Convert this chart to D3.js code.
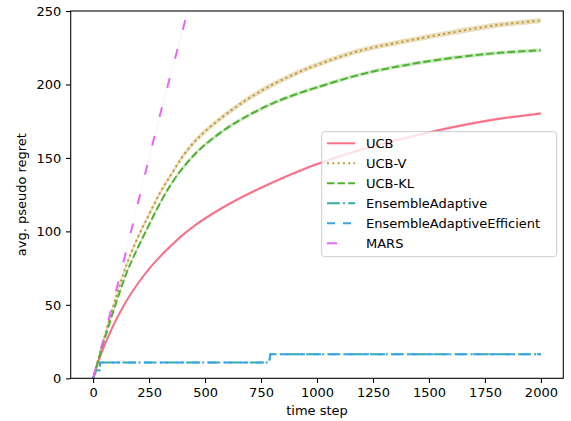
<!DOCTYPE html>
<html>
<head>
<meta charset="utf-8">
<script src="https://cdn.jsdelivr.net/npm/d3@7"></script>
<style>
body { margin: 0; background: #fff; }
svg { display: block; font-family: "DejaVu Sans", sans-serif; }
</style>
</head>
<body>
<svg id="chart"></svg>
<script>
// values
var ucbT = [0, 25, 50, 100, 150, 200, 250, 300, 350, 400, 450, 500, 600, 700, 800, 900, 1000, 1200, 1400, 1600, 1800, 2000];
var ucb  = [0, 12, 22, 39, 53, 64.5, 74.5, 83, 90.5, 97.5, 103.5, 108.8, 118, 126, 133.2, 139.8, 145.8, 155.7, 163.7, 170.7, 176.3, 180.3];
var ucbV = [0, 14, 28, 54, 77.5, 96, 111.5, 126.5, 139, 151, 160.5, 168, 180.5, 191, 199.8, 207.1, 213.3, 223.3, 229.6, 235.3, 240.3, 243.5];
var ucbKL = [0, 13, 26, 50, 72, 89, 104.5, 119.5, 132.5, 143, 151.8, 159, 170.5, 179.5, 187, 193, 198, 207, 213.3, 218, 221.3, 223.3];
var ucbSd = 1.0, ucbVSd = 1.8, ucbKLSd = 1.3;

var ensT = [0, 14, 30, 31, 786, 792, 2000];
var ensAdaptive = [0, 5.5, 5.5, 10.7, 10.7, 16.4, 16.4];
var ensEfficient = [0, 5.5, 5.5, 10.7, 10.7, 16.4, 16.4];

var marsT = [0, 50, 100, 150, 200, 250, 300, 400, 500];
var mars  = [0, 28.5, 58, 88, 119, 150, 180, 237, 295];

var xTicks = [0, 250, 500, 750, 1000, 1250, 1500, 1750, 2000];
var yTicks = [0, 50, 100, 150, 200, 250];

var names = ["UCB", "UCB-V", "UCB-KL", "EnsembleAdaptive", "EnsembleAdaptiveEfficient", "MARS"];
var colors = ["#f77189", "#bb9832", "#50b131", "#36ada4", "#3ba3ec", "#e866f4"];
var dashes = [null, "2,3.3", "7.4,3.2", "12.8,3.2,2,3.2", "8,8", "10,20"];

var width = 571, height = 421;
var mLeft = 70.7, mRight = 563.3, mTop = 11, mBottom = 378.3;

var svg = d3.select("#chart").attr("width", width).attr("height", height);

var x = d3.scaleLinear().domain([-100, 2100]).range([mLeft, mRight]);
var y = d3.scaleLinear().domain([0, 250]).range([mBottom, mTop]);

svg.append("clipPath").attr("id", "clip")
  .append("rect").attr("x", mLeft).attr("y", mTop)
  .attr("width", mRight - mLeft).attr("height", mBottom - mTop);

var plot = svg.append("g").attr("clip-path", "url(#clip)");

function zip(ts, vs) {
  return ts.map(function (t, i) { return [t, vs[i]]; });
}

var line = d3.line().x(function (d) { return x(d[0]); }).y(function (d) { return y(d[1]); })
  .curve(d3.curveCatmullRom.alpha(0.5));
var stepLine = d3.line().x(function (d) { return x(d[0]); }).y(function (d) { return y(d[1]); });
var band = d3.area().x(function (d) { return x(d[0]); })
  .y0(function (d) { return y(d[1] - d[2]); })
  .y1(function (d) { return y(d[1] + d[2]); })
  .curve(d3.curveCatmullRom.alpha(0.5));

var series = [
  { t: ucbT, v: ucb, sd: ucbSd, gen: line },
  { t: ucbT, v: ucbV, sd: ucbVSd, gen: line },
  { t: ucbT, v: ucbKL, sd: ucbKLSd, gen: line },
  { t: ensT, v: ensAdaptive, sd: 0, gen: stepLine },
  { t: ensT, v: ensEfficient, sd: 0, gen: stepLine },
  { t: marsT, v: mars, sd: 0.4, gen: line }
];

series.forEach(function (s, i) {
  var pts = zip(s.t, s.v);
  if (s.sd > 0) {
    plot.append("path")
      .datum(pts.map(function (p) { return [p[0], p[1], s.sd]; }))
      .attr("d", band)
      .attr("fill", colors[i])
      .attr("fill-opacity", 0.3)
      .attr("stroke", "none");
  }
  plot.append("path")
    .datum(pts)
    .attr("d", s.gen)
    .attr("fill", "none")
    .attr("stroke", colors[i])
    .attr("stroke-width", 2)
    .attr("stroke-dasharray", dashes[i]);
});

// axes
var xAxis = svg.append("g").attr("transform", "translate(0," + mBottom + ")")
  .call(d3.axisBottom(x).tickValues(xTicks).tickSize(4.7).tickPadding(4.7).tickFormat(d3.format("d")));
var yAxis = svg.append("g").attr("transform", "translate(" + mLeft + ",0)")
  .call(d3.axisLeft(y).tickValues(yTicks).tickSize(4.7).tickPadding(4.7).tickFormat(d3.format("d")));
[xAxis, yAxis].forEach(function (a) {
  a.select(".domain").remove();
  a.selectAll("line").attr("stroke", "#000").attr("stroke-width", 1.07);
  a.selectAll("text").attr("font-size", 13).attr("font-family", "DejaVu Sans").attr("fill", "#000");
});

svg.append("rect")
  .attr("x", mLeft).attr("y", mTop)
  .attr("width", mRight - mLeft).attr("height", mBottom - mTop)
  .attr("fill", "none").attr("stroke", "#000").attr("stroke-width", 1.07);

svg.append("text")
  .attr("x", (mLeft + mRight) / 2).attr("y", 415)
  .attr("text-anchor", "middle").attr("font-size", 13)
  .text("time step");

svg.append("text")
  .attr("transform", "translate(26," + ((mTop + mBottom) / 2) + ") rotate(-90)")
  .attr("text-anchor", "middle").attr("font-size", 13)
  .text("avg. pseudo regret");

// legend
var legend = svg.append("g");
legend.append("rect")
  .attr("x", 321.7).attr("y", 131.7)
  .attr("width", 235).attr("height", 125)
  .attr("rx", 3)
  .attr("fill", "#fff").attr("fill-opacity", 0.8)
  .attr("stroke", "#cccccc").attr("stroke-width", 1);

var items = legend.selectAll("g.item").data(names).enter().append("g")
  .attr("transform", function (d, i) { return "translate(0," + (143.3 + i * 20) + ")"; });
items.append("line")
  .attr("x1", 327).attr("x2", 355).attr("y1", 0).attr("y2", 0)
  .attr("stroke", function (d, i) { return colors[i]; })
  .attr("stroke-width", 2)
  .attr("stroke-dasharray", function (d, i) { return dashes[i]; });
items.append("text")
  .attr("x", 366).attr("y", 4.7)
  .attr("font-size", 13)
  .text(function (d) { return d; });
</script>
</body>
</html>
